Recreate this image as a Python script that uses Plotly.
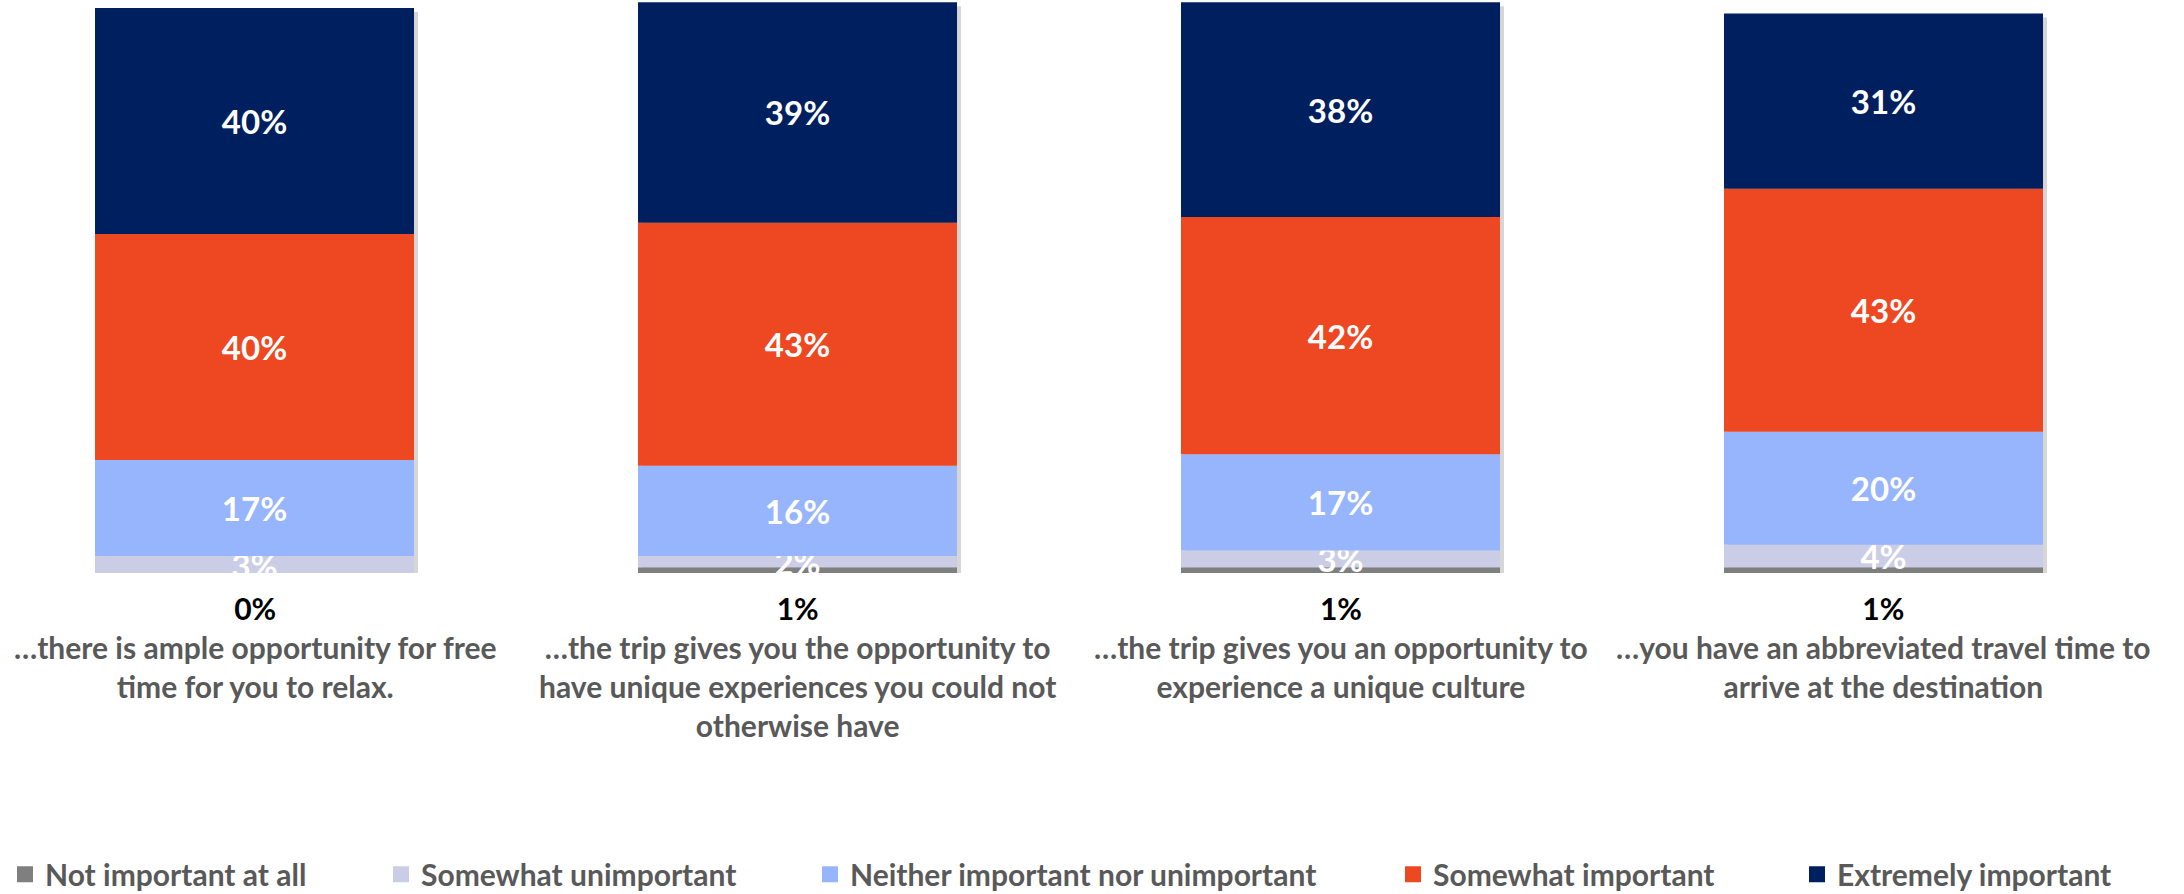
import plotly.graph_objects as go

# Survey results: importance of each trip attribute (percent of respondents)
categories = [
    "…there is ample opportunity for free<br>time for you to relax.",
    "…the trip gives you the opportunity to<br>have unique experiences you could not<br>otherwise have",
    "…the trip gives you an opportunity to<br>experience a unique culture",
    "…you have an abbreviated travel time to<br>arrive at the destination",
]
not_important = [0, 1, 1, 1]
somewhat_unimportant = [3, 2, 3, 4]
neither = [17, 16, 17, 20]
somewhat_important = [40, 43, 42, 43]
extremely_important = [40, 39, 38, 31]

series_names = [
    "Not important at all",
    "Somewhat unimportant",
    "Neither important nor unimportant",
    "Somewhat important",
    "Extremely important",
]
series_values = [not_important, somewhat_unimportant, neither,
                 somewhat_important, extremely_important]
series_colors = ["#7F7F7F", "#CBCCE6", "#97B5FC", "#EE4822", "#001F5F"]

# layout constants
FONT = "Lato"
GREY_TEXT = "#595959"
BAR_W = 0.5875
X_RANGE = [-0.4687, 3.5534]
Y_RANGE = [0, 101.4]
PX_PER_X = 2184 / (X_RANGE[1] - X_RANGE[0])
PX_PER_Y = 573 / (Y_RANGE[1] - Y_RANGE[0])
SHADOW_PX = 4
LEGEND_SYMBOL_LEFT = [17, 393, 822, 1405, 1809]

x_pos = list(range(len(categories)))
totals = [sum(col) for col in zip(*series_values)]

fig = go.Figure()

# soft drop shadow behind each stacked column
fig.add_trace(go.Bar(
    x=x_pos, y=totals,
    base=[-SHADOW_PX / PX_PER_Y] * len(x_pos),
    width=BAR_W,
    offset=-BAR_W / 2 + SHADOW_PX / PX_PER_X,
    marker=dict(color="rgba(0,0,0,0.16)", line=dict(width=0)),
    showlegend=False, hoverinfo="skip", cliponaxis=False,
))

# stacked segments, built bottom-up
running = [0] * len(x_pos)
for i, (name, vals, color) in enumerate(zip(series_names, series_values, series_colors)):
    show_text = i > 0
    fig.add_trace(go.Bar(
        x=x_pos, y=vals, base=list(running),
        name=name, showlegend=False,
        marker=dict(color=color, line=dict(width=0)),
        width=BAR_W,
        text=[f"{v}%" for v in vals] if show_text else None,
        textposition="inside" if show_text else "none",
        insidetextanchor="middle",
        textangle=0,
        constraintext="none",
        textfont=dict(family=FONT, size=33, color="white", weight="bold"),
        cliponaxis=False,
        hoverinfo="skip",
    ))
    running = [r + v for r, v in zip(running, vals)]

    # legend entry with a larger square swatch
    fig.add_trace(go.Scatter(
        x=[None], y=[None], mode="markers", name=name,
        marker=dict(symbol="square", size=17, color=color),
        legend="legend" if i == 0 else f"legend{i + 1}",
        hoverinfo="skip",
    ))

# Under each bar: the "Not important at all" share (black), then the category text
for x, v, label in zip(x_pos, not_important, categories):
    fig.add_annotation(
        x=x, y=0, xref="x", yref="y", yanchor="top", yshift=-14.5,
        text=f'<span style="color:black">{v}%</span><br>{label}',
        showarrow=False, align="center",
        font=dict(family=FONT, size=30, color=GREY_TEXT, weight="bold"),
    )

legend_style = dict(
    orientation="h", xanchor="left",
    yref="container", y=0.022, yanchor="middle",
    font=dict(family=FONT, size=30, color=GREY_TEXT, weight="bold"),
    bgcolor="rgba(0,0,0,0)",
)
legends = {}
for i, left in enumerate(LEGEND_SYMBOL_LEFT):
    key = "legend" if i == 0 else f"legend{i + 1}"
    legends[key] = dict(legend_style, x=(left - 12) / 2184)

fig.update_layout(
    width=2184,
    height=894,
    barmode="overlay",
    plot_bgcolor="white",
    paper_bgcolor="white",
    margin=dict(l=0, r=0, t=0, b=321, autoexpand=False),
    xaxis=dict(range=X_RANGE, visible=False, fixedrange=True),
    yaxis=dict(range=Y_RANGE, visible=False, fixedrange=True),
    showlegend=True,
    **legends,
)

fig.write_html("out.html")
